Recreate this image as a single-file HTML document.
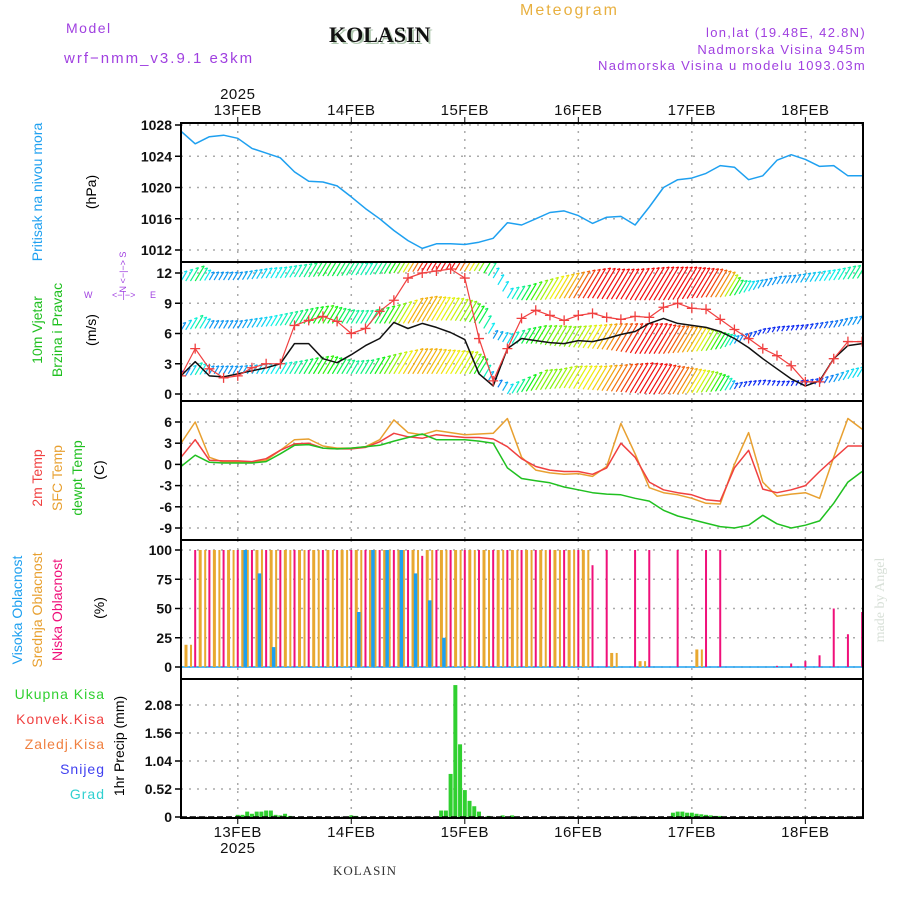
<!DOCTYPE html>
<html><head><meta charset="utf-8">
<style>
html,body{margin:0;padding:0;background:#fff;}
svg text{font-family:"Liberation Sans",sans-serif;}
svg text.serif{font-family:"Liberation Serif",serif;}
</style></head>
<body>
<svg id="chart" width="900" height="900" viewBox="0 0 900 900" xmlns="http://www.w3.org/2000/svg">
<defs>
<clipPath id="clip1"><rect x="181" y="123" width="682" height="139"/></clipPath>
<clipPath id="clip2"><rect x="181" y="262" width="682" height="139"/></clipPath>
<clipPath id="clip3"><rect x="181" y="401" width="682" height="139"/></clipPath>
<clipPath id="clip4"><rect x="181" y="540" width="682" height="139"/></clipPath>
<clipPath id="clip5"><rect x="181" y="679" width="682" height="139"/></clipPath>
</defs>
<g>
<text x="66" y="33" font-size="14" fill="#a040e0" letter-spacing="1.5">Model</text>
<text x="64" y="63" font-size="15" fill="#a040e0" letter-spacing="2">wrf−nmm_v3.9.1 e3km</text>
<text class="serif" x="331" y="44" font-weight="bold" font-size="22" fill="#b0c8b0">KOLASIN</text>
<text class="serif" x="329" y="42" font-weight="bold" font-size="22" fill="#111">KOLASIN</text>
<text x="520" y="15" font-size="16" fill="#e8b040" letter-spacing="2">Meteogram</text>
<text x="866" y="37" font-size="13" fill="#a040e0" text-anchor="end" letter-spacing="1.3">lon,lat (19.48E, 42.8N)</text>
<text x="866" y="54" font-size="13" fill="#a040e0" text-anchor="end" letter-spacing="1.3">Nadmorska Visina 945m</text>
<text x="866" y="70" font-size="13" fill="#a040e0" text-anchor="end" letter-spacing="1.3">Nadmorska Visina u modelu 1093.03m</text>
</g>
<g id="axes"></g>
<g id="m1" clip-path="url(#clip1)"></g>
<g id="m2" clip-path="url(#clip2)"></g>
<g id="m3" clip-path="url(#clip3)"></g>
<g id="m4" clip-path="url(#clip4)"></g>
<g id="m5" clip-path="url(#clip5)"></g>
<g id="frames"></g>
<g font-size="14">
<text transform="translate(42,192) rotate(-90)" text-anchor="middle" fill="#1ea0f0">Pritisak na nivou mora</text>
<text transform="translate(96,192) rotate(-90)" text-anchor="middle" fill="#000">(hPa)</text>
<text transform="translate(42,330) rotate(-90)" text-anchor="middle" fill="#20c020">10m Vjetar</text>
<text transform="translate(62,330) rotate(-90)" text-anchor="middle" fill="#20c020">Brzina i Pravac</text>
<text transform="translate(96,330) rotate(-90)" text-anchor="middle" fill="#000">(m/s)</text>
<g font-size="9" fill="#a040e0">
<text x="84" y="298">W</text><text x="150" y="298">E</text>
<text transform="translate(126,272) rotate(-90)" text-anchor="middle">N &lt;−|−&gt; S</text>
<text x="112" y="298">&lt;−|−&gt;</text>
</g>
<text transform="translate(42,478) rotate(-90)" text-anchor="middle" fill="#f04040">2m Temp</text>
<text transform="translate(62,478) rotate(-90)" text-anchor="middle" fill="#e8a030">SFC Temp</text>
<text transform="translate(82,478) rotate(-90)" text-anchor="middle" fill="#20c020">dewpt Temp</text>
<text transform="translate(104,470) rotate(-90)" text-anchor="middle" fill="#000">(C)</text>
<text transform="translate(22,610) rotate(-90)" text-anchor="middle" fill="#1ea0f0">Visoka Oblacnost</text>
<text transform="translate(42,610) rotate(-90)" text-anchor="middle" fill="#e8a030">Srednja Oblacnost</text>
<text transform="translate(62,610) rotate(-90)" text-anchor="middle" fill="#f0107a">Niska Oblacnost</text>
<text transform="translate(104,608) rotate(-90)" text-anchor="middle" fill="#000">(%)</text>
<g text-anchor="end" letter-spacing="1">
<text x="105" y="699" fill="#30d030">Ukupna  Kisa</text>
<text x="105" y="724" fill="#f04040">Konvek.Kisa</text>
<text x="105" y="749" fill="#f08040">Zaledj.Kisa</text>
<text x="105" y="774" fill="#4040f0">Snijeg</text>
<text x="105" y="799" fill="#30d0d0">Grad</text>
</g>
<text transform="translate(124,746) rotate(-90)" text-anchor="middle" fill="#000">1hr Precip (mm)</text>
</g>
<text class="serif" x="365" y="875" font-size="13" text-anchor="middle" fill="#333" letter-spacing="1">KOLASIN</text>
<text class="serif" transform="translate(884,600) rotate(-90)" text-anchor="middle" font-size="14" fill="#d8e0d8">made by Angel</text>
</svg>
<script>
const NS="http://www.w3.org/2000/svg";
// ---- data (3-hourly, starting 12FEB 12Z) ----
const dayLabels=["13FEB","14FEB","15FEB","16FEB","17FEB","18FEB"];
const dayHours=[12,36,60,84,108,132];
const pressTicks=[1012,1016,1020,1024,1028];
const windTicks=[0,3,6,9,12];
const tempTicks=[-9,-6,-3,0,3,6];
const cloudTicks=[0,25,50,75,100];
const precipTicks=[0,0.52,1.04,1.56,2.08];
const pressure=[1027.2,1025.6,1026.5,1026.7,1026.3,1025,1024.4,1023.8,1022,1020.8,1020.7,1020.2,1018.8,1017.3,1016,1014.5,1013.2,1012.2,1012.8,1012.8,1012.7,1013,1013.5,1015.5,1015.2,1016,1016.8,1017,1016.4,1015.4,1016.2,1016.3,1015.2,1017.5,1020,1021,1021.2,1021.8,1022.8,1022.6,1021,1021.5,1023.5,1024.2,1023.6,1022.7,1022.8,1021.5,1021.5];
const windSpeed=[1.8,3.2,1.8,1.7,2.0,2.3,2.6,3.0,5.0,5.0,3.5,3.1,3.9,4.8,5.5,7.1,6.5,7.0,6.6,6.1,5.4,2.0,0.8,4.5,5.5,5.3,5.1,5.0,5.3,5.2,5.5,5.9,6.2,7.0,7.5,7.0,6.8,6.6,6.2,5.5,4.6,3.5,2.5,1.5,0.8,1.3,3.5,4.8,5.0];
const windGust=[1.8,4.5,2.5,1.6,1.8,2.6,3.0,3.0,6.8,7.3,7.7,7.2,6.0,6.5,8.2,9.3,11.5,12.0,12.2,12.4,11.5,5.5,1.3,4.5,7.5,8.3,7.8,7.3,7.8,8.0,7.6,7.4,7.7,7.6,8.6,9.0,8.5,8.4,7.4,6.4,5.5,4.5,3.8,2.8,1.2,1.2,3.5,5.2,5.2];
const levA_base=[11.2,11.2,11.3,11.3,11.3,11.4,11.5,11.5,11.6,11.6,11.7,11.7,11.8,11.8,11.9,12.0,12.1,12.2,12.3,12.3,12.2,12.2,11.5,9.5,9.3,9.3,9.4,9.5,9.5,9.5,9.4,9.4,9.3,9.3,9.3,9.4,9.5,9.6,9.6,9.8,10.2,10.6,10.9,11.0,11.1,11.2,11.3,11.4,11.5];
const levA_len=[1.0,1.5,0.8,0.8,0.8,0.9,1.0,1.1,1.2,1.4,1.6,1.5,1.3,1.2,1.4,1.8,2.5,3.0,3.0,3.0,2.5,2.0,1.0,1.0,1.5,2.0,2.3,2.5,2.8,3.0,3.0,3.0,3.2,3.3,3.3,3.2,3.0,2.8,2.5,1.5,1.0,0.8,0.8,0.8,0.9,1.0,1.1,1.3,1.4];
const levB_base=[6.3,6.5,6.5,6.5,6.5,6.6,6.7,6.8,6.9,7.0,7.0,7.0,7.0,7.0,7.0,7.0,7.0,7.2,7.3,7.3,7.2,7.0,5.5,5.0,5.0,5.0,4.8,4.7,4.6,4.5,4.4,4.2,4.0,4.0,4.0,4.1,4.2,4.3,4.5,5.0,5.5,6.0,6.2,6.3,6.4,6.5,6.6,6.8,7.0];
const levB_len=[0.8,1.3,0.8,0.8,0.8,0.9,1.0,1.2,1.4,1.6,1.8,1.5,1.3,1.3,1.6,2.0,2.5,2.5,2.3,2.2,2.0,1.5,0.8,1.0,1.5,1.8,2.0,2.0,2.2,2.4,2.6,2.8,3.0,3.0,2.8,2.6,2.4,2.0,1.5,0.8,0.6,0.5,0.5,0.5,0.5,0.6,0.7,0.8,0.8];
const levC_base=[1.8,1.9,2.0,2.0,2.0,2.0,2.0,2.0,2.0,2.0,2.0,2.0,2.0,2.0,2.0,2.0,2.0,2.0,2.0,2.0,2.0,2.0,1.0,0.0,0.2,0.4,0.5,0.6,0.5,0.4,0.3,0.2,0.1,0.0,0.0,0.0,0.1,0.2,0.3,0.5,0.8,0.9,0.8,0.8,0.9,1.0,1.2,1.5,1.8];
const levC_len=[0.5,1.2,0.8,0.8,0.8,0.9,1.0,1.1,1.3,1.6,1.8,1.5,1.3,1.4,1.8,2.2,2.5,2.5,2.4,2.3,2.2,1.5,0.6,1.0,1.5,2.0,2.0,2.2,2.3,2.4,2.6,2.8,3.0,3.0,2.8,2.6,2.3,2.0,1.5,0.6,0.5,0.5,0.5,0.5,0.5,0.6,0.8,1.0,1.0];
const temp2m=[1,3.5,0.6,0.5,0.5,0.4,0.8,2.0,2.9,3.0,2.3,2.2,2.2,2.4,3.2,4.4,3.9,3.7,4.2,4.0,3.8,3.8,3.6,2.5,0.8,-0.3,-0.8,-1.0,-1.0,-1.4,-0.5,3.0,1.0,-2.5,-3.6,-4.0,-4.3,-5.0,-5.2,-0.5,2.0,-3.5,-4.0,-3.6,-3.0,-1.0,0.8,2.6,2.6];
const tempSfc=[3.0,6.0,1.0,0.3,0.3,0.3,0.6,2.0,3.5,3.6,2.6,2.3,2.3,2.5,3.5,6.3,4.5,4.2,4.8,4.5,4.2,4.3,4.4,6.5,1.0,-0.8,-1.2,-1.4,-1.3,-1.7,-0.3,5.8,1.5,-3.3,-4.0,-4.3,-4.8,-5.5,-5.6,0.0,4.5,-2.5,-4.5,-4.2,-4.0,-4.8,1.0,6.5,5.0];
const tempDew=[-0.3,1.3,0.3,0.2,0.2,0.2,0.4,1.5,2.7,2.8,2.3,2.2,2.3,2.5,2.7,3.3,3.8,4.3,3.5,3.5,3.5,3.3,3.0,-0.5,-2.0,-2.3,-2.6,-3.2,-3.6,-4.0,-4.2,-4.3,-4.8,-5.2,-6.5,-7.3,-7.8,-8.3,-8.8,-9.0,-8.6,-7.2,-8.4,-9.0,-8.6,-8.0,-5.5,-2.5,-1.0];
const cloudLow=[0,100,100,100,100,100,100,100,100,100,100,100,100,100,100,100,100,95,100,100,100,100,100,100,100,100,100,100,100,87,100,0,100,100,0,100,0,100,100,0,0,0,1,3,5,10,50,28,47];
const cloudMid=[19,100,100,100,100,100,100,100,100,100,100,100,100,100,100,100,100,100,100,100,100,100,100,100,100,100,100,100,100,0,12,0,5,0,0,0,15,0,0,0,0,0,0,0,0,0,0,0,0];
const cloudHigh=[0,0,0,0,100,80,17,0,0,0,0,0,47,100,100,100,80,57,25,0,0,0,0,0,0,0,0,0,0,0,0,0,0,0,0,0,0,0,0,0,0,0,0,0,0,0,0,0,0];
const precipHours=[12,13,14,15,16,17,18,19,20,21,22,23,36,37,55,56,57,58,59,60,61,62,63,65,68,70,104,105,106,107,108,109,110,111,112,113,114];
const precipVals=[0.04,0.04,0.1,0.06,0.1,0.1,0.12,0.12,0.04,0.03,0.06,0.02,0.03,0.02,0.12,0.12,0.8,2.45,1.35,0.5,0.3,0.2,0.1,0.02,0.03,0.03,0.08,0.1,0.1,0.08,0.08,0.06,0.05,0.04,0.03,0.02,0.02];

// ---- scales ----
const X0=181,PXH=4.73;
function xh(h){return X0+h*PXH;}
function xk(k){return xh(k*3);}
function lin(d0,d1,r0,r1){return v=>r0+(v-d0)*(r1-r0)/(d1-d0);}
const yP=lin(1012,1028,250,125);
const yW=lin(0,12,394,273);
const yT=lin(0,6,464.4,422);
const yC=lin(0,100,667,550);
const yR=lin(0,2.08,817,705);
const panels=[[123,262],[262,401],[401,540],[540,679],[679,818]];
const axes=document.getElementById('axes'),frames=document.getElementById('frames');
const m1=document.getElementById('m1'),m2=document.getElementById('m2'),m3=document.getElementById('m3'),m4=document.getElementById('m4'),m5=document.getElementById('m5');
function el(tag,attrs,parent){const e=document.createElementNS(NS,tag);for(const k in attrs)e.setAttribute(k,attrs[k]);parent.appendChild(e);return e;}
function txt(s,attrs,parent){const e=el(tag='text',attrs,parent);e.textContent=s;return e;}

function yAxis(ticks,sc,fmt,name){
  ticks.forEach(t=>{
    const y=sc(t);
    const g=el('line',{x1:181,x2:863,y1:y,y2:y,stroke:'#aaa','stroke-dasharray':'2,6','stroke-width':1.5},axes);
    
    
    const tk=el('line',{x1:175,x2:181,y1:y,y2:y,stroke:'#000','stroke-width':1.5},axes);
    
    
    const l=txt(fmt(t),{x:172,y:y+5,'font-size':14,'font-weight':'bold','text-anchor':'end',fill:'#111'},axes);
    
    
  });
}
yAxis(pressTicks,yP,String,'pressure');
yAxis(windTicks,yW,String,'wind');
yAxis(tempTicks,yT,String,'temp');
yAxis(cloudTicks,yC,String,'cloud');
yAxis(precipTicks,yR,v=>v===0?'0':v.toFixed(2),'precip');
dayHours.forEach((h,i)=>{
  const x=xh(h);
  panels.forEach(p=>{
    const g=el('line',{x1:x,x2:x,y1:p[0],y2:p[1],stroke:'#aaa','stroke-dasharray':'2,6','stroke-width':1.5},axes);
    
    
  });
  const t1=txt(dayLabels[i],{x:x,y:115,'font-size':15,'text-anchor':'middle',fill:'#111','letter-spacing':'0.5'},axes);
  
  
  const t2=txt(dayLabels[i],{x:x,y:837,'font-size':15,'text-anchor':'middle',fill:'#111','letter-spacing':'0.5'},axes);
  
  
  el('line',{x1:x,x2:x,y1:117,y2:123,stroke:'#000'},axes);
  el('line',{x1:x,x2:x,y1:818,y2:824,stroke:'#000'},axes);
});
const yr1=txt('2025',{x:xh(dayHours[0]),y:99,'font-size':15,'text-anchor':'middle',fill:'#111','letter-spacing':'0.5'},axes);


const yr2=txt('2025',{x:xh(dayHours[0]),y:853,'font-size':15,'text-anchor':'middle',fill:'#111','letter-spacing':'0.5'},axes);



function line(vals,sc,color,name,parent,w){
  const pts=vals.map((v,k)=>xk(k).toFixed(1)+','+sc(v).toFixed(1)).join(' ');
  const p=el('polyline',{points:pts,fill:'none',stroke:color,'stroke-width':w||1.5,'stroke-linejoin':'round'},parent);
  
  
}
line(pressure,yP,'#1ea0f0','pressure-line',m1);

// wind arrows
function hue(len){return Math.max(0,Math.min(260,280-len*95));}
function level(base,len,name){
  const g=el('g',{},m2);
  
  
  base.forEach((b,k)=>{
    if(k<base.length-1){
      const x1=xk(k),x2=xk(k+1);
      const sub=3;
      for(let s=0;s<sub;s++){
        const f=s/sub,xb=x1+(x2-x1)*f,bb=b+(base[k+1]-b)*f,ll=len[k]+(len[k+1]-len[k])*f;
        const L=yW(0)-yW(ll);
        el('line',{x1:xb,y1:yW(bb),x2:xb+L*0.6,y2:yW(bb)-L,stroke:'hsl('+hue(ll)+',90%,50%)','stroke-width':1.2},g);
        el('line',{x1:xb+L*0.6,y1:yW(bb)-L,x2:xb+L*0.6-3,y2:yW(bb)-L+1,stroke:'hsl('+hue(ll)+',90%,50%)','stroke-width':1.2},g);
      }
    }
  });
}
level(levA_base,levA_len,'wind-arrows-top');
level(levB_base,levB_len,'wind-arrows-mid');
level(levC_base,levC_len,'wind-arrows-low');
line(windSpeed,yW,'#111','wind-speed-line',m2);
line(windGust,yW,'#f04040','wind-gust-line',m2,1.2);
windGust.forEach((v,k)=>{
  const x=xk(k),y=yW(v);
  const m=el('path',{d:`M${x-5},${y}H${x+5}M${x},${y-5}V${y+5}`,stroke:'#f04040','stroke-width':1.3},m2);
  
  
});

// temperatures
line(tempSfc,yT,'#e8a030','sfc-temp-line',m3);
line(temp2m,yT,'#f04040','t2m-line',m3);
line(tempDew,yT,'#20c020','dewpt-line',m3);

// clouds
function bars(vals,sc,color,off,name,w,parent){
  vals.forEach((v,k)=>{
    if(v<=0)return;
    const x=xk(k)+off;
    const r=el('rect',{x:x-w/2,y:sc(v),width:w,height:sc(0)-sc(v),fill:color},parent);
    
    
  });
}
el('line',{x1:181,x2:863,y1:yC(0),y2:yC(0),stroke:'#1ea0f0','stroke-width':1.5},m4);
bars(cloudLow,yC,'#f0107a',0,'low-cloud-bar',2,m4);
bars(cloudMid,yC,'#e8a830',5,'mid-cloud-bar',3,m4);
bars(cloudMid,yC,'#e8a830',10,'mid-cloud-bar',2,m4);
bars(cloudHigh,yC,'#1ea0f0',7.5,'high-cloud-bar',3.5,m4);

// precip
precipHours.forEach((h,i)=>{
  const v=precipVals[i],x=xh(h);
  const r=el('rect',{x:x-2,y:yR(v),width:4,height:yR(0)-yR(v),fill:'#30d030'},m5);
  
  
});
el('line',{x1:181,x2:863,y1:yR(0),y2:yR(0),stroke:'#000','stroke-width':1.5,'stroke-dasharray':'6,3'},m5);

// frames
panels.forEach((p,i)=>{
  const r=el('rect',{x:181,y:p[0],width:682,height:p[1]-p[0],fill:'none',stroke:'#000','stroke-width':2},frames);
  
  
});
</script>
</body></html>
